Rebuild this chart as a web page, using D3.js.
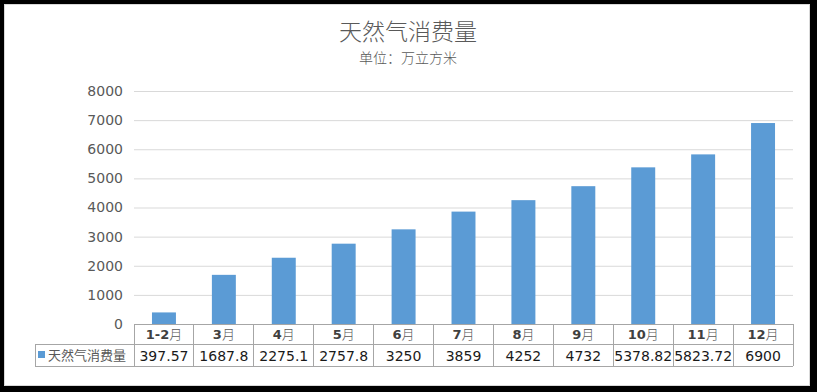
<!DOCTYPE html>
<html><head><meta charset="utf-8">
<script src="https://cdn.jsdelivr.net/npm/d3@7/dist/d3.min.js"></script>
<style>html,body{margin:0;padding:0;background:#000;}svg{display:block;}</style>
</head><body>
<script>
const categories = ["1-2月","3月","4月","5月","6月","7月","8月","9月","10月","11月","12月"];
const values = [397.57,1687.8,2275.1,2757.8,3250,3859,4252,4732,5378.82,5823.72,6900];
const valueLabels = ["397.57","1687.8","2275.1","2757.8","3250","3859","4252","4732","5378.82","5823.72","6900"];
const yTicks = [0,1000,2000,3000,4000,5000,6000,7000,8000];
const seriesName = "天然气消费量";
const title = "天然气消费量";
const subtitle = "单位：万立方米";

(function(){
const W = 817, H = 392;
const svg = d3.select("body").append("svg").attr("width", W).attr("height", H);
svg.append("rect").attr("x",0).attr("y",0).attr("width",W).attr("height",H).attr("fill","#000");
svg.append("rect").attr("x",4.5).attr("y",4.5).attr("width",805).attr("height",381).attr("fill","#fff").attr("stroke","#d9d9d9");

const pL = 134, pR = 793, pT = 91, pB = 324;
const x = d3.scaleBand().domain(categories).range([pL, pR]).paddingInner(0.6).paddingOuter(0.3);
const xCol = d3.scaleBand().domain(categories).range([pL, pR]);
const y = d3.scaleLinear().domain([0, 8000]).range([pB, pT]);

const fontLat = "'DejaVu Sans', 'Noto Sans CJK SC', sans-serif";
const fontCJK = "'Noto Sans CJK SC', sans-serif";

svg.append("text").attr("x", 408).attr("y", 40).attr("text-anchor","middle")
  .attr("font-family",fontCJK).attr("font-weight",300).attr("font-size",23).attr("fill","#595959").text(title);
svg.append("text").attr("x", 408).attr("y", 63).attr("text-anchor","middle")
  .attr("font-family",fontCJK).attr("font-weight",300).attr("font-size",14).attr("fill","#595959").text(subtitle);

const yAxis = d3.axisLeft(y).tickValues(yTicks).tickFormat(d3.format("d")).tickSize(-(pR-pL)).tickPadding(11);
const gy = svg.append("g").attr("transform",`translate(${pL},0)`).call(yAxis);
gy.select(".domain").remove();
gy.selectAll(".tick line").attr("stroke","#d9d9d9");
gy.selectAll(".tick text").attr("font-family",fontLat).attr("font-size",14).attr("fill","#595959");
gy.selectAll(".tick").filter(d=>d===0).select("line").remove();

svg.append("g").selectAll("rect").data(values).join("rect")
  .attr("x",(d,i)=>x(categories[i])).attr("width",x.bandwidth())
  .attr("y",d=>y(d)).attr("height",d=>y(0)-y(d)).attr("fill","#5b9bd5");

const row1Top = 324, row1Bot = 344, row2Bot = 366, legendLeft = 35;
const tg = svg.append("g").attr("stroke","#a6a6a6").attr("stroke-width",1).attr("shape-rendering","crispEdges");
tg.append("line").attr("x1",pL).attr("x2",pR).attr("y1",row1Top).attr("y2",row1Top);
tg.append("line").attr("x1",legendLeft).attr("x2",pR).attr("y1",row1Bot).attr("y2",row1Bot);
tg.append("line").attr("x1",legendLeft).attr("x2",pR).attr("y1",row2Bot).attr("y2",row2Bot);
tg.append("line").attr("x1",legendLeft).attr("x2",legendLeft).attr("y1",row1Bot).attr("y2",row2Bot);
categories.forEach(c=>{
  tg.append("line").attr("x1",xCol(c)).attr("x2",xCol(c)).attr("y1",row1Top).attr("y2",row2Bot);
});
tg.append("line").attr("x1",pR).attr("x2",pR).attr("y1",row1Top).attr("y2",row2Bot);

const catText = svg.append("g").selectAll("text").data(categories).join("text")
  .attr("x",d=>xCol(d)+xCol.bandwidth()/2).attr("y",339).attr("text-anchor","middle")
  .attr("font-size",13).attr("fill","#404040");
catText.append("tspan").attr("font-family",fontLat).attr("font-weight","bold").text(d=>d.replace("月",""));
catText.append("tspan").attr("font-family",fontCJK).attr("font-weight",300).attr("fill","#595959").text("月");

svg.append("g").selectAll("text").data(valueLabels).join("text")
  .attr("x",(d,i)=>xCol(categories[i])+xCol.bandwidth()/2).attr("y",361).attr("text-anchor","middle")
  .attr("font-family",fontLat).attr("font-size",14).attr("fill","#1a1a1a").text(d=>d);

svg.append("rect").attr("x",38).attr("y",351).attr("width",7).attr("height",7).attr("fill","#5b9bd5");
svg.append("text").attr("x",48).attr("y",360).attr("font-family",fontCJK)
  .attr("font-size",13).attr("fill","#595959").text(seriesName);
})();
</script>
</body></html>
